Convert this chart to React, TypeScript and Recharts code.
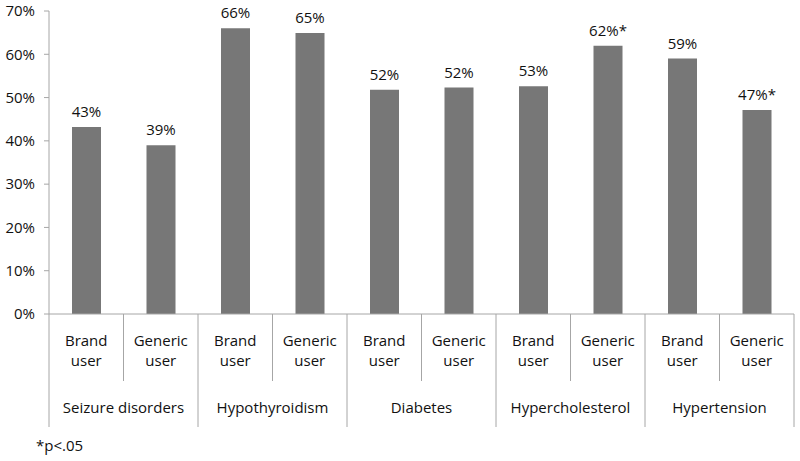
import React from "react";
import { BarChart, Bar, XAxis, YAxis, LabelList } from "recharts";

const conditions = ["Seizure disorders", "Hypothyroidism", "Diabetes", "Hypercholesterol", "Hypertension"];
const userTypes = ["Brand user", "Generic user"];
const shares = [43.2, 39.0, 66.0, 64.9, 51.8, 52.3, 52.6, 62.0, 59.0, 47.1];
const shareLabels = ["43%", "39%", "66%", "65%", "52%", "52%", "53%", "62%*", "59%", "47%*"];
const yTicks = [0, 10, 20, 30, 40, 50, 60, 70];

const data = shares.map((v, i) => ({
  key: `${conditions[Math.floor(i / 2)]}|${userTypes[i % 2]}`,
  share: v,
  label: shareLabels[i],
}));

const W = 800;
const H = 461;
const M = { top: 11, right: 6, left: 0, bottom: 0 };
const Y_W = 49;
const X_H = 147;
const AXIS_Y = H - X_H;
const BAND = (W - M.left - M.right - Y_W) / data.length;
const FONT = "'Open Sans', 'Noto Sans', sans-serif";
const GRID = "#a6a6a6";
const INK = "#111111";

function TwoLevelTick(props: any) {
  const { x, index } = props;
  const [group, sub] = String(props.payload.value).split("|");
  const words = sub.split(" ");
  const right = x + BAND / 2;
  const groupEnd = index % 2 === 1;
  return (
    <g>
      {index === 0 && <line x1={x - BAND / 2} x2={x - BAND / 2} y1={AXIS_Y} y2={427} stroke={GRID} />}
      <line x1={right} x2={right} y1={AXIS_Y} y2={groupEnd ? 427 : 381} stroke={GRID} />
      <text x={x} y={346} textAnchor="middle" fontSize={15} fill={INK} fontFamily={FONT}>{words[0]}</text>
      <text x={x} y={366} textAnchor="middle" fontSize={15} fill={INK} fontFamily={FONT}>{words[1]}</text>
      {index % 2 === 0 && (
        <text x={x + BAND / 2} y={413} textAnchor="middle" fontSize={15} fill={INK} fontFamily={FONT}>{group}</text>
      )}
    </g>
  );
}

export default function App() {
  return (
    <div style={{ position: "absolute", left: 0, top: 0, width: W, height: H, background: "#fff" }}>
      <BarChart width={W} height={H} data={data} margin={M}>
        <YAxis
          width={Y_W}
          domain={[0, 70]}
          ticks={yTicks}
          tickFormatter={(v: number) => `${v}%`}
          axisLine={{ stroke: GRID }}
          tickLine={{ stroke: GRID }}
          tickSize={5}
          tickMargin={9}
          tick={{ fontSize: 15, fill: INK, fontFamily: FONT }}
        />
        <XAxis
          dataKey="key"
          height={X_H}
          interval={0}
          axisLine={{ stroke: GRID }}
          tickLine={false}
          tick={<TwoLevelTick />}
        />
        <Bar dataKey="share" fill="#777777" barSize={29} isAnimationActive={false}>
          <LabelList dataKey="label" position="top" offset={10} style={{ fontSize: 15, fill: INK, fontFamily: FONT }} />
        </Bar>
      </BarChart>
      <div style={{ position: "absolute", left: 36, top: 435, fontSize: 15, color: INK, fontFamily: FONT }}>*p&lt;.05</div>
    </div>
  );
}
